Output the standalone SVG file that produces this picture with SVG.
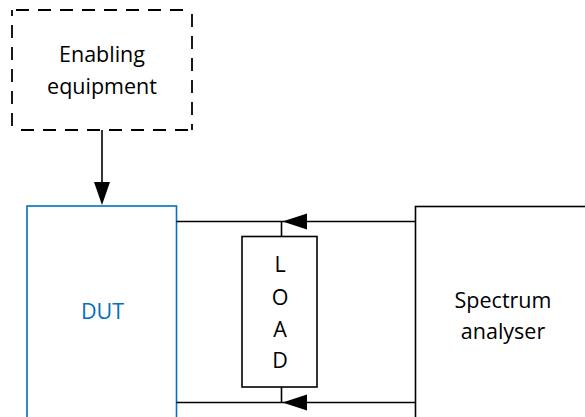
<svg xmlns="http://www.w3.org/2000/svg" width="585" height="417" viewBox="0 0 585 417">
<defs>
<style>
.t{font-family:"Open Sans","Noto Sans","Liberation Sans",sans-serif;font-size:21.5px;text-anchor:middle;fill:#000}
.box{fill:#fff;stroke:#000;stroke-width:1.6}
.ln{fill:none;stroke:#000;stroke-width:1.6}
.ah{fill:#000}
</style>
</defs>
<rect width="585" height="417" fill="#fff"/>
<g id="enabling">
<rect x="12" y="10" width="180" height="120" fill="#fff"/>
<path d="M12,10 H192 M192,10 V130 M192,130 H12 M12,130 V10" fill="none" stroke="#000" stroke-width="1.8" stroke-dasharray="13,9" stroke-dashoffset="-4"/>
<text class="t" x="102" y="62">Enabling</text>
<text class="t" x="102" y="94">equipment</text>
</g>
<g id="dut">
<rect x="27" y="206" width="149.5" height="213" fill="#fff" stroke="#0070C0" stroke-width="1.6"/>
<text class="t" x="102.5" y="319" style="fill:#0070C0">DUT</text>
</g>
<g id="spectrum">
<rect x="415.5" y="206.5" width="200" height="213" class="box"/>
<text class="t" x="503" y="308">Spectrum</text>
<text class="t" x="503" y="339">analyser</text>
</g>
<g id="connectors">
<line class="ln" x1="102" y1="130" x2="102" y2="184"/>
<polygon class="ah" points="94,182 110,182 102,205"/>
<line class="ln" x1="176.5" y1="221.5" x2="415.5" y2="221.5"/>
<line class="ln" x1="176.5" y1="402.5" x2="415.5" y2="402.5"/>
<polygon class="ah" points="307,213.5 307,229.5 282.5,221.5"/>
<polygon class="ah" points="307,394.5 307,410.5 282.5,402.5"/>
<line class="ln" x1="281.5" y1="221.5" x2="281.5" y2="236.5"/>
<line class="ln" x1="281.5" y1="387" x2="281.5" y2="402.5"/>
</g>
<g id="load">
<rect x="242" y="236.5" width="75" height="150.5" class="box"/>
<text class="t" x="280" y="271.5">L</text>
<text class="t" x="280" y="304.5">O</text>
<text class="t" x="280" y="336.5">A</text>
<text class="t" x="280" y="368">D</text>
</g>
</svg>
